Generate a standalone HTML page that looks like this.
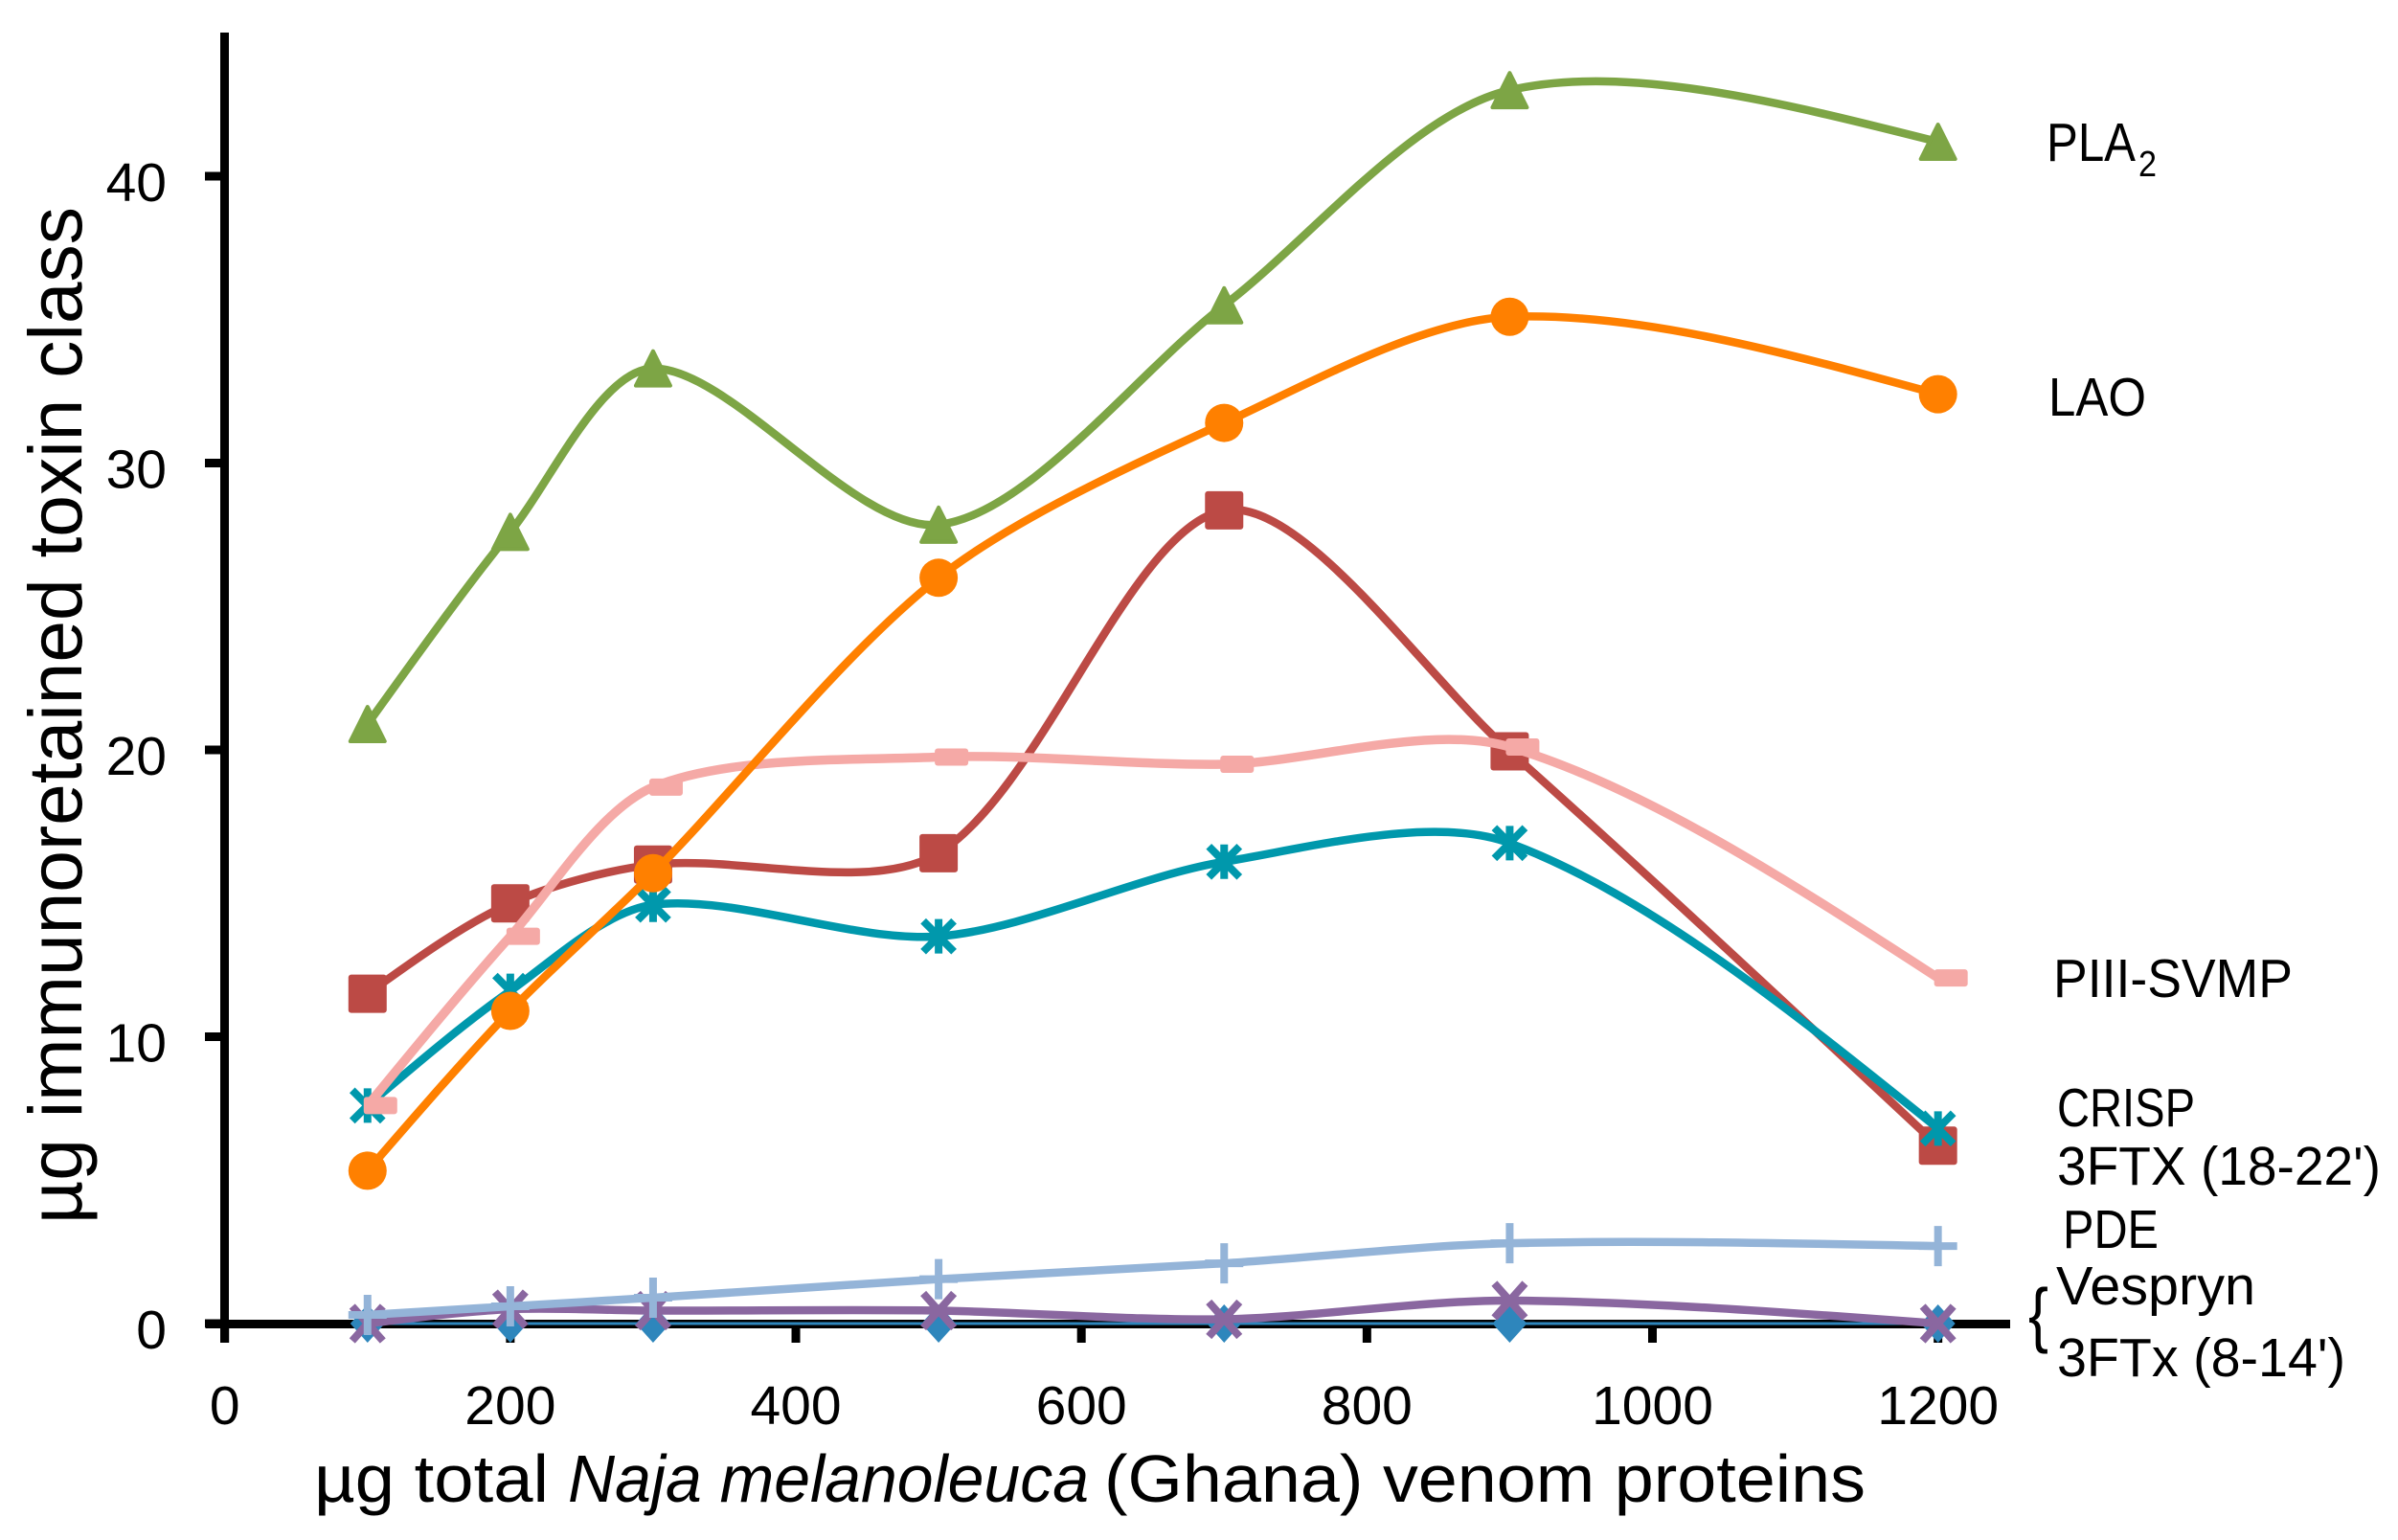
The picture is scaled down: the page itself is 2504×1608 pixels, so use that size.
<!DOCTYPE html>
<html lang="en">
<head>
<meta charset="utf-8">
<title>Immunoretained toxin classes</title>
<style>
html,body{margin:0;padding:0;background:#fff;}
svg{display:block;}
text{font-family:"Liberation Sans",sans-serif;fill:#000;}
</style>
</head>
<body>
<svg id="chart" xmlns="http://www.w3.org/2000/svg" width="2504" height="1608" viewBox="0 0 2504 1608">
  <rect width="2504" height="1608" fill="#fff"/>
  <g id="axes"></g>
  <g id="series"></g>

  <text transform="translate(85 1278) rotate(-90)" font-size="79" textLength="1062" lengthAdjust="spacingAndGlyphs">µg immunoretained toxin class</text>

  <g font-size="70">
    <text x="328" y="1568" textLength="245" lengthAdjust="spacingAndGlyphs">µg total</text>
    <text x="593" y="1568" font-style="italic" textLength="544" lengthAdjust="spacingAndGlyphs">Naja melanoleuca</text>
    <text x="1153" y="1568" textLength="795" lengthAdjust="spacingAndGlyphs">(Ghana) venom proteins</text>
  </g>

  <g font-size="57">
    <text x="2137" y="168" textLength="93" lengthAdjust="spacingAndGlyphs">PLA</text>
    <text x="2233" y="184" font-size="38" textLength="19" lengthAdjust="spacingAndGlyphs">2</text>
    <text x="2139" y="434" textLength="102" lengthAdjust="spacingAndGlyphs">LAO</text>
    <text x="2144" y="1041" textLength="250" lengthAdjust="spacingAndGlyphs">PIII-SVMP</text>
    <text x="2148" y="1176" textLength="144" lengthAdjust="spacingAndGlyphs">CRISP</text>
    <text x="2148" y="1237" textLength="338" lengthAdjust="spacingAndGlyphs">3FTX (18-22')</text>
    <text x="2154" y="1303" textLength="100" lengthAdjust="spacingAndGlyphs">PDE</text>
    <text x="2147" y="1362" textLength="208" lengthAdjust="spacingAndGlyphs">Vespryn</text>
    <text x="2148" y="1437" textLength="301" lengthAdjust="spacingAndGlyphs">3FTx (8-14')</text>
    <text x="2118" y="1398" font-size="75" textLength="21" lengthAdjust="spacingAndGlyphs">{</text>
  </g>
</svg>

<script>
const doses = [100, 200, 300, 500, 700, 900, 1200];
const xTickLabels = [0, 200, 400, 600, 800, 1000, 1200];
const yTickLabels = [0, 10, 20, 30, 40];

const pla2Values = [20.9, 27.6, 33.3, 27.85, 35.5, 43.0, 41.2];
const laoValues = [5.33, 10.9, 15.7, 26.0, 31.4, 35.1, 32.4];
const svmpValues = [7.6, 13.5, 18.7, 19.75, 19.5, 20.1, 12.05];
const ftx1822Values = [11.5, 14.65, 16.0, 16.4, 28.35, 19.95, 6.2];
const crispValues = [7.6, 11.6, 14.6, 13.5, 16.1, 16.75, 6.8];
const pdeValues = [0.3, 0.6, 0.9, 1.55, 2.1, 2.8, 2.7];
const vesprynValues = [0, 0.5, 0.45, 0.45, 0.15, 0.8, 0];
const ftx814Values = [0, 0, 0, 0, 0, 0, 0];

const NS = 'http://www.w3.org/2000/svg';
const xScale = function (v) { return 234.7 + v * 1.4908; };
const yScale = function (v) { return 1382 - v * 29.95; };

function make(tag, attrs, parent) {
  const el = document.createElementNS(NS, tag);
  for (const k in attrs) { el.setAttribute(k, attrs[k]); }
  parent.appendChild(el);
  return el;
}

const axes = document.getElementById('axes');
const yAxisLine = make('rect', { x: 230, y: 34, width: 9, height: 1368, fill: '#000' }, axes);


const xAxisLine = make('rect', { x: 215, y: 1378, width: 1884, height: 9, fill: '#000' }, axes);



xTickLabels.forEach(function (t) {
  const tick = make('rect', { x: xScale(t) - 4.5, y: 1382, width: 9, height: 20, fill: '#000' }, axes);
  
  
  const lab = make('text', { x: xScale(t), y: 1487, 'font-size': 57, 'text-anchor': 'middle' }, axes);
  
  
  lab.textContent = String(t);
});

yTickLabels.forEach(function (t) {
  const tick = make('rect', { x: 214, y: yScale(t) - 4.5, width: 20, height: 9, fill: '#000' }, axes);
  
  
  const lab = make('text', { x: 174, y: yScale(t) + 26, 'font-size': 57, 'text-anchor': 'end' }, axes);
  
  
  lab.textContent = String(t);
});

function smoothPath(values) {
  const p = values.map(function (v, i) { return [xScale(doses[i]), yScale(v)]; });
  const n = p.length;
  const k = 0.3;
  const dist = function (a, b) { return Math.hypot(a[0] - b[0], a[1] - b[1]) || 1; };
  const cIn = [], cOut = [];
  for (let i = 1; i < n - 1; i++) {
    const d0 = dist(p[i - 1], p[i]);
    const d1 = dist(p[i], p[i + 1]);
    const tx = (p[i + 1][0] - p[i - 1][0]) / (d0 + d1);
    const ty = (p[i + 1][1] - p[i - 1][1]) / (d0 + d1);
    cIn[i] = [p[i][0] - tx * d0 * k, p[i][1] - ty * d0 * k];
    cOut[i] = [p[i][0] + tx * d1 * k, p[i][1] + ty * d1 * k];
  }
  cOut[0] = [(p[0][0] + cIn[1][0]) / 2, (p[0][1] + cIn[1][1]) / 2];
  cIn[n - 1] = [(p[n - 1][0] + cOut[n - 2][0]) / 2, (p[n - 1][1] + cOut[n - 2][1]) / 2];
  let d = 'M' + p[0][0].toFixed(1) + ' ' + p[0][1].toFixed(1);
  for (let i = 0; i < n - 1; i++) {
    d += ' C' + cOut[i][0].toFixed(1) + ' ' + cOut[i][1].toFixed(1) + ' ' +
         cIn[i + 1][0].toFixed(1) + ' ' + cIn[i + 1][1].toFixed(1) + ' ' +
         p[i + 1][0].toFixed(1) + ' ' + p[i + 1][1].toFixed(1);
  }
  return d;
}

function drawMarker(kind, cx, cy, color, parent) {
  const stroke = { stroke: color, 'stroke-width': 8, 'stroke-linecap': 'butt', fill: 'none' };
  let m;
  if (kind === 'square') {
    m = make('rect', { x: cx - 20, y: cy - 20, width: 40, height: 40, rx: 3, fill: color }, parent);
  } else if (kind === 'circle') {
    m = make('circle', { cx: cx, cy: cy, r: 20, fill: color }, parent);
  } else if (kind === 'triangle') {
    m = make('path', { d: 'M' + cx + ' ' + (cy - 18) + ' L' + (cx + 18) + ' ' + (cy + 18) + ' L' + (cx - 18) + ' ' + (cy + 18) + ' Z', fill: color, stroke: color, 'stroke-width': 4, 'stroke-linejoin': 'round' }, parent);
  } else if (kind === 'diamond') {
    m = make('path', { d: 'M' + cx + ' ' + (cy - 20) + ' L' + (cx + 18) + ' ' + cy + ' L' + cx + ' ' + (cy + 20) + ' L' + (cx - 18) + ' ' + cy + ' Z', fill: color }, parent);
  } else if (kind === 'dash') {
    m = make('rect', { x: cx - 4, y: cy - 9, width: 35, height: 18, rx: 3, fill: color }, parent);
  } else if (kind === 'plus') {
    m = make('path', Object.assign({ d: 'M' + (cx - 20) + ' ' + cy + ' H' + (cx + 20) + ' M' + cx + ' ' + (cy - 21) + ' V' + (cy + 21) }, stroke), parent);
  } else if (kind === 'cross') {
    m = make('path', Object.assign({ d: 'M' + (cx - 16) + ' ' + (cy - 18) + ' L' + (cx + 16) + ' ' + (cy + 18) + ' M' + (cx + 16) + ' ' + (cy - 18) + ' L' + (cx - 16) + ' ' + (cy + 18) }, stroke), parent);
  } else {
    m = make('path', Object.assign({ d: 'M' + (cx - 16) + ' ' + (cy - 16) + ' L' + (cx + 16) + ' ' + (cy + 16) + ' M' + (cx + 16) + ' ' + (cy - 16) + ' L' + (cx - 16) + ' ' + (cy + 16) + ' M' + cx + ' ' + (cy - 18) + ' V' + (cy + 18) }, stroke), parent);
  }
  return m;
}

function drawSeries(name, values, color, width, kind) {
  const host = document.getElementById('series');
  const g = make('g', {}, host);
  
  
  const line = make('path', { d: smoothPath(values), fill: 'none', stroke: color, 'stroke-width': width, 'stroke-linecap': 'butt' }, g);
  
  
  values.forEach(function (v, i) {
    const m = drawMarker(kind, xScale(doses[i]), yScale(v), color, g);
    
    
  });
}

drawSeries('3ftx-8-14', ftx814Values, '#2E86BC', 3, 'diamond');
drawSeries('3ftx-18-22', ftx1822Values, '#BC4A45', 8.5, 'square');
drawSeries('pla2', pla2Values, '#7DA545', 8.5, 'triangle');
drawSeries('vespryn', vesprynValues, '#8A67A0', 8.5, 'cross');
drawSeries('crisp', crispValues, '#0098AC', 8.5, 'star');
drawSeries('piii-svmp', svmpValues, '#F5A9A6', 9.5, 'dash');
drawSeries('lao', laoValues, '#FF8000', 8.5, 'circle');
drawSeries('pde', pdeValues, '#94B4D8', 8.5, 'plus');
</script>
</body>
</html>
